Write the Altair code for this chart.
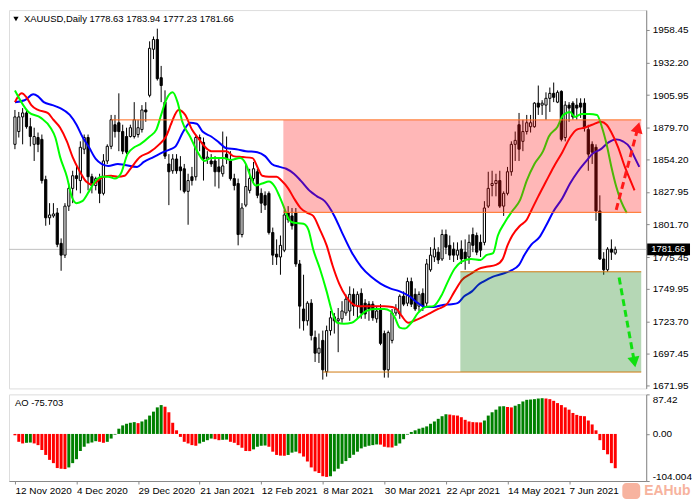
import altair as alt
import pandas as pd

# ---------------- data ----------------
opens = [1866.3, 1876.6, 1888.4, 1891.6, 1880.5, 1866.3, 1871.8, 1870.3, 1837.9, 1807.1,
         1808.6, 1811.0, 1786.5, 1777.0, 1816.5, 1830.8, 1841.0, 1837.1, 1862.4, 1871.8,
         1840.2, 1833.1, 1839.4, 1826.8, 1852.9, 1864.7, 1882.1, 1883.7, 1876.6, 1872.6,
         1872.6, 1872.6, 1874.2, 1878.2, 1894.0, 1905.8, 1942.9, 1950.8, 1920.0, 1900.3,
         1850.5, 1845.0, 1854.5, 1848.1, 1846.6, 1828.4, 1840.2, 1840.2, 1871.8, 1867.9,
         1854.5, 1852.9, 1852.9, 1848.1, 1842.6, 1858.4, 1852.9, 1838.7, 1834.7, 1793.6,
         1817.3, 1829.2, 1838.7, 1844.2, 1826.8, 1825.2, 1826.8, 1795.2, 1777.8, 1775.5,
         1781.0, 1811.0, 1808.6, 1811.0, 1769.9, 1733.6, 1724.1, 1738.3, 1710.7, 1698.0,
         1708.3, 1683.0, 1716.2, 1727.3, 1724.1, 1725.7, 1730.4, 1732.0, 1745.4, 1735.9,
         1746.2, 1738.3, 1737.5, 1737.5, 1725.7, 1733.6, 1713.8, 1684.6, 1708.3, 1730.4,
         1729.6, 1743.9, 1738.3, 1755.7, 1745.4, 1735.9, 1746.2, 1738.3, 1765.2, 1775.5,
         1779.4, 1773.9, 1793.6, 1784.9, 1781.8, 1777.0, 1781.8, 1779.4, 1775.5, 1793.6,
         1792.8, 1787.3, 1787.3, 1816.5, 1833.1, 1834.7, 1837.1, 1816.5, 1826.8, 1844.2,
         1866.3, 1882.1, 1868.7, 1876.6, 1880.5, 1880.5, 1899.5, 1897.9, 1897.9, 1903.4,
         1907.4, 1900.3, 1909.0, 1871.8, 1897.9, 1899.5, 1897.9, 1899.5, 1899.5, 1878.2,
         1866.3, 1863.9, 1812.6, 1773.9, 1765.2, 1781.8, 1778.63]
highs = [1894.0, 1892.4, 1895.5, 1894.7, 1887.6, 1879.7, 1875.8, 1874.2, 1841.0, 1818.9,
         1818.9, 1815.0, 1790.5, 1818.9, 1834.7, 1845.0, 1850.5, 1868.7, 1874.2, 1874.2,
         1842.6, 1840.2, 1842.6, 1858.4, 1866.3, 1890.0, 1890.0, 1907.4, 1882.1, 1879.7,
         1882.1, 1900.3, 1886.1, 1897.9, 1900.3, 1949.3, 1953.2, 1959.5, 1929.5, 1909.8,
         1858.4, 1858.4, 1858.4, 1856.8, 1850.5, 1842.6, 1848.1, 1874.2, 1874.2, 1871.8,
         1860.8, 1858.4, 1856.8, 1854.5, 1876.6, 1872.6, 1860.8, 1842.6, 1838.7, 1818.9,
         1850.5, 1846.6, 1852.1, 1846.6, 1830.8, 1828.4, 1828.4, 1799.2, 1789.7, 1792.8,
         1813.4, 1816.5, 1815.0, 1815.0, 1773.1, 1761.2, 1739.9, 1741.5, 1716.2, 1713.8,
         1716.2, 1720.2, 1732.0, 1730.4, 1734.4, 1739.9, 1745.4, 1751.8, 1750.2, 1747.8,
         1750.2, 1741.5, 1739.9, 1739.9, 1735.9, 1737.5, 1716.2, 1716.2, 1733.6, 1737.5,
         1745.4, 1747.8, 1758.9, 1758.9, 1750.2, 1747.8, 1750.2, 1773.9, 1783.4, 1791.3,
         1783.4, 1797.6, 1797.6, 1792.8, 1787.3, 1787.3, 1788.9, 1789.7, 1793.6, 1799.2,
         1795.2, 1793.6, 1820.5, 1844.2, 1845.0, 1842.6, 1845.0, 1828.4, 1848.1, 1868.7,
         1876.6, 1891.6, 1886.1, 1890.0, 1890.0, 1900.3, 1913.7, 1901.9, 1908.2, 1912.1,
         1916.1, 1909.8, 1909.8, 1901.1, 1900.3, 1901.1, 1903.4, 1903.4, 1903.4, 1882.1,
         1868.7, 1866.3, 1825.2, 1779.4, 1783.4, 1789.7, 1783.94]
lows = [1862.4, 1871.8, 1866.3, 1878.9, 1864.7, 1852.9, 1860.0, 1834.7, 1800.7, 1801.5,
        1807.1, 1783.4, 1764.4, 1774.7, 1812.6, 1818.9, 1829.2, 1826.8, 1858.4, 1829.2,
        1826.8, 1829.2, 1818.9, 1825.2, 1850.5, 1862.4, 1871.8, 1860.8, 1858.4, 1858.4,
        1871.8, 1871.0, 1871.8, 1875.8, 1884.5, 1904.2, 1935.0, 1917.7, 1900.3, 1854.5,
        1817.3, 1842.6, 1842.6, 1829.2, 1826.8, 1801.5, 1833.1, 1837.1, 1860.8, 1837.1,
        1850.5, 1848.1, 1832.3, 1830.8, 1840.2, 1850.5, 1837.1, 1829.2, 1784.9, 1791.3,
        1815.7, 1826.8, 1836.3, 1822.9, 1811.0, 1813.4, 1793.6, 1769.1, 1769.1, 1761.2,
        1779.4, 1803.1, 1797.6, 1767.6, 1717.8, 1716.2, 1720.2, 1708.3, 1690.9, 1690.1,
        1676.7, 1679.1, 1712.3, 1713.8, 1698.8, 1722.5, 1728.1, 1724.1, 1728.1, 1725.7,
        1725.7, 1725.7, 1724.1, 1724.1, 1722.5, 1704.4, 1678.3, 1678.3, 1705.9, 1728.1,
        1725.7, 1735.9, 1735.9, 1735.2, 1732.0, 1732.0, 1732.0, 1735.9, 1763.6, 1771.5,
        1769.9, 1772.3, 1777.8, 1773.1, 1771.5, 1773.1, 1769.9, 1765.2, 1769.9, 1779.4,
        1777.0, 1775.5, 1784.9, 1815.0, 1824.4, 1824.4, 1815.0, 1808.6, 1825.2, 1841.0,
        1852.9, 1852.9, 1860.8, 1874.2, 1875.8, 1879.7, 1890.0, 1890.0, 1886.1, 1892.4,
        1900.3, 1899.5, 1868.7, 1868.7, 1884.5, 1886.1, 1886.1, 1887.6, 1876.6, 1845.0,
        1850.5, 1804.7, 1773.1, 1761.2, 1763.6, 1773.1, 1777.23]
closes = [1888.4, 1888.4, 1891.6, 1880.5, 1872.6, 1872.6, 1866.3, 1837.1, 1807.1, 1809.4,
          1810.2, 1785.7, 1777.0, 1816.5, 1830.8, 1841.0, 1838.7, 1863.9, 1871.8, 1840.2,
          1833.1, 1838.7, 1826.8, 1852.9, 1864.7, 1886.1, 1876.6, 1876.6, 1860.8, 1860.0,
          1879.7, 1886.1, 1879.7, 1894.0, 1892.4, 1943.7, 1950.8, 1919.2, 1913.7, 1856.8,
          1844.2, 1854.5, 1845.0, 1845.0, 1828.4, 1837.1, 1837.1, 1871.8, 1870.3, 1854.5,
          1856.0, 1850.5, 1844.2, 1844.2, 1848.9, 1854.5, 1838.7, 1833.1, 1793.6, 1815.0,
          1832.3, 1838.7, 1846.6, 1825.2, 1818.9, 1817.3, 1795.2, 1777.0, 1775.5, 1784.9,
          1809.4, 1805.5, 1800.7, 1769.9, 1735.9, 1724.1, 1738.3, 1712.3, 1698.0, 1702.0,
          1684.6, 1716.2, 1726.5, 1724.1, 1725.7, 1732.0, 1741.5, 1745.4, 1735.9, 1745.4,
          1730.4, 1729.6, 1733.6, 1726.5, 1732.0, 1705.9, 1684.6, 1714.6, 1730.4, 1733.6,
          1743.9, 1737.5, 1755.7, 1737.5, 1733.6, 1745.4, 1735.9, 1769.9, 1777.0, 1781.8,
          1773.1, 1793.6, 1783.4, 1777.0, 1777.0, 1781.0, 1773.9, 1773.9, 1787.3, 1784.9,
          1779.4, 1781.0, 1815.0, 1830.8, 1834.7, 1837.1, 1816.5, 1826.8, 1844.2, 1866.3,
          1869.5, 1862.4, 1876.6, 1883.7, 1883.7, 1899.5, 1896.3, 1899.5, 1903.4, 1907.4,
          1904.2, 1908.2, 1870.3, 1897.9, 1895.5, 1888.4, 1895.5, 1896.3, 1879.7, 1858.4,
          1860.0, 1812.6, 1773.9, 1765.2, 1781.8, 1779.4, 1781.66]

# Alligator lines (bar index, price)
lips_idx = [0, 3.5, 6.75, 9.25, 10.5, 11.75, 13.5, 14.75, 16, 17.5, 19.25, 21, 22.5, 24.25, 26, 27.5,
            29.25, 31, 32.5, 35, 36.75, 38, 39.25, 41, 42.25, 43.5, 45.5, 47.5, 49.25, 51, 54.25, 56,
            58.5, 60, 61.25, 62.5, 64.25, 66, 67.5, 68.75, 70, 71.25, 72.5, 75, 76.25, 77.5, 79.25,
            81, 82.5, 83.75, 85.5, 87.5, 89.25, 91.25, 93.5, 96, 97.5, 98.75, 100, 101.25, 103,
            104.75, 106.75, 108.75, 111, 112.5, 114.25, 116, 118.5, 121, 122.5, 124.25, 125.5,
            127.25, 129.25, 131.25, 133, 135, 137.25, 138.75, 141, 142.5, 144.25, 145.5, 147.25,
            149.25, 151.25, 152.5, 153.75, 155, 156.25, 157.5, 159]
lips_val = [1909.7, 1892.4, 1887.6, 1879.7, 1871.8, 1856.0, 1840.2, 1824.4, 1818.9, 1820.5, 1828.4,
            1837.1, 1840.2, 1840.2, 1838.7, 1842.6, 1858.4, 1863.9, 1866.3, 1872.6, 1878.2, 1890.0,
            1901.8, 1908.2, 1900.3, 1884.5, 1872.6, 1860.0, 1852.9, 1855.2, 1855.2, 1853.7, 1855.2,
            1850.5, 1840.2, 1833.1, 1834.7, 1836.3, 1832.3, 1824.4, 1814.9, 1805.5, 1803.1, 1802.3,
            1797.6, 1781.8, 1766.0, 1747.8, 1730.4, 1722.5, 1721.7, 1722.5, 1726.5, 1732.0, 1733.6,
            1733.6, 1732.0, 1726.5, 1718.6, 1717.8, 1722.5, 1730.4, 1735.2, 1735.9, 1745.4, 1755.7,
            1766.0, 1771.5, 1773.9, 1773.1, 1777.0, 1778.6, 1792.8, 1803.1, 1812.6, 1821.3, 1837.1,
            1850.5, 1860.8, 1872.6, 1880.5, 1890.0, 1892.4, 1888.4, 1890.8, 1890.8, 1890.0, 1880.5,
            1866.3, 1848.1, 1832.3, 1820.5, 1811.0]
teeth_idx = [0, 1.75, 3, 4.25, 6, 8.5, 10, 11.75, 13.5, 15, 16.75, 18.5, 20, 21.25, 23, 25, 26.75,
             28.5, 30, 32.5, 35, 37.5, 39.25, 40.5, 41, 42.5, 44.25, 46, 47.5, 49.25, 51, 52.5, 55,
             56.75, 59.25, 61.75, 63, 64.25, 66, 68, 69.25, 71, 72.5, 74.25, 76, 77.5, 79.25, 81,
             82.5, 84.25, 86, 87.5, 89.25, 93.5, 96, 98, 99.25, 100.5, 102.25, 103.75, 105.5, 107.5,
             110, 112.25, 114.25, 116.25, 118.5, 120.5, 122.5, 125, 126.75, 128, 129.25, 131.25, 133,
             134.25, 136, 138, 140, 142.25, 144.25, 146, 148, 150, 152.25, 153.75, 155, 156.75, 158.5,
             159.75, 161]
teeth_val = [1900.3, 1907.4, 1904.2, 1897.9, 1894.0, 1891.6, 1886.1, 1879.7, 1868.7, 1856.0, 1845.0,
             1836.3, 1833.9, 1836.3, 1840.2, 1841.0, 1840.2, 1841.0, 1846.6, 1856.0, 1860.0, 1866.3,
             1872.6, 1882.1, 1886.1, 1894.0, 1890.0, 1878.2, 1871.8, 1864.7, 1860.8, 1860.8, 1860.8,
             1856.8, 1856.0, 1855.2, 1848.1, 1841.0, 1840.2, 1840.2, 1837.1, 1830.8, 1822.9, 1814.9,
             1811.0, 1808.6, 1797.6, 1784.9, 1769.1, 1754.1, 1743.9, 1738.3, 1735.9, 1735.9, 1735.9,
             1735.2, 1733.6, 1728.0, 1722.5, 1724.1, 1726.5, 1729.6, 1733.6, 1737.5, 1747.8, 1757.3,
             1762.0, 1766.0, 1767.6, 1769.1, 1773.9, 1784.9, 1792.8, 1800.7, 1805.5, 1813.4, 1824.4,
             1836.3, 1848.1, 1860.0, 1871.8, 1878.2, 1879.7, 1882.1, 1884.5, 1882.1, 1875.8, 1863.9,
             1848.1, 1838.7, 1829.2]
jaw_idx = [0, 2.5, 4.75, 6, 7.5, 9.75, 11.75, 14.25, 16, 17.5, 19.25, 21, 22.5, 24.25, 26.75, 28.5,
           31.75, 33.5, 36, 38.5, 40.5, 41.75, 43.75, 45.5, 47.25, 48.75, 51, 53, 55, 57.5, 60, 63,
           65, 66.75, 68.75, 70.5, 72.5, 74.25, 76.75, 78.5, 80.5, 83, 85, 87.5, 90, 92.5, 95, 97.5,
           100, 102.5, 104.75, 106.75, 108.75, 111, 113.5, 115, 116.75, 118.75, 120.5, 121.75,
           124.25, 126.75, 128.75, 131, 132.5, 134.25, 136.25, 138, 140, 142.25, 144.25, 146.25,
           148.5, 150, 152.25, 154.25, 156.25, 158, 159.75, 161, 162.25]
jaw_val = [1900.3, 1901.8, 1906.6, 1905.0, 1900.3, 1897.9, 1895.5, 1890.0, 1882.1, 1872.6, 1863.9,
           1854.5, 1850.5, 1848.9, 1850.5, 1849.7, 1848.1, 1852.1, 1856.0, 1860.0, 1862.4, 1864.7,
           1876.6, 1883.7, 1882.9, 1876.6, 1872.6, 1867.9, 1863.1, 1862.4, 1860.8, 1860.0, 1856.8,
           1850.5, 1848.1, 1846.6, 1842.6, 1837.1, 1828.4, 1824.4, 1820.5, 1808.6, 1795.2, 1779.4,
           1767.6, 1759.7, 1754.1, 1750.2, 1747.8, 1743.9, 1738.3, 1735.2, 1735.2, 1736.7, 1737.5,
           1738.3, 1743.9, 1747.8, 1753.3, 1755.7, 1759.7, 1762.0, 1764.4, 1769.1, 1777.8, 1785.7,
           1791.3, 1800.7, 1812.6, 1822.8, 1834.7, 1844.2, 1852.9, 1858.4, 1862.4, 1867.9, 1870.3,
           1868.7, 1864.0, 1856.0, 1848.1]

ao_values = [-3.0, -17.4, -21.0, -19.6, -19.0, -21.0, -24.7, -35.5, -46.4, -57.3,
             -64.5, -75.4, -76.9, -77.6, -74.0, -64.5, -55.8, -37.7, -28.3, -21.0,
             -18.9, -16.0, -17.4, -19.6, -17.4, -10.2, -1.5, 11.6, 18.9, 22.5,
             24.7, 26.1, 23.9, 27.6, 31.9, 40.6, 49.3, 58.7, 63.8, 60.2,
             47.9, 24.7, 8.0, -6.5, -17.4, -21.0, -24.7, -26.1, -21.0, -17.4,
             -13.8, -10.2, -11.6, -13.8, -13.0, -12.5, -17.4, -19.6, -24.7, -30.5,
             -37.7, -37.9, -34.1, -28.3, -26.1, -25.8, -28.3, -39.2, -46.4, -47.9,
             -48.2, -46.4, -41.3, -39.2, -42.8, -50.0, -60.9, -74.0, -82.7, -86.3,
             -93.5, -95.0, -93.5, -82.7, -76.9, -66.0, -60.0, -53.0, -46.0, -39.2,
             -31.9, -28.3, -26.1, -24.7, -23.2, -23.6, -28.3, -29.7, -29.9, -26.1,
             -21.0, -11.6, -1.5, 4.4, 8.0, 11.6, 13.8, 16.7, 22.5, 27.6,
             33.4, 39.2, 43.5, 42.8, 41.3, 40.6, 37.0, 31.2, 27.6, 26.1,
             25.7, 25.4, 29.7, 40.6, 47.9, 53.7, 60.9, 61.3, 59.5, 58.7,
             62.4, 66.0, 71.8, 75.4, 76.1, 76.9, 78.3, 79.0, 78.3, 76.9,
             73.2, 68.2, 63.8, 58.7, 53.7, 46.4, 42.1, 39.9, 39.2, 29.7,
             21.0, 8.0, -13.8, -35.5, -45.0, -64.5, -75.703]

date_ticks = [0, 16, 32, 48, 64, 80, 96, 112, 128, 144]
date_labels = ["12 Nov 2020", "4 Dec 2020", "29 Dec 2020", "21 Jan 2021", "12 Feb 2021",
               "8 Mar 2021", "30 Mar 2021", "22 Apr 2021", "14 May 2021", "7 Jun 2021"]
price_ticks = [1671.95, 1697.45, 1723.70, 1749.95, 1775.45, 1801.70, 1827.95, 1854.20,
               1879.70, 1905.95, 1932.20, 1958.45]
ao_ticks = [87.42, 0.0, -104.004]

# zones: [start bar, bottom price, top price]
zone_start = [69.75, 115.75]
zone_low = [1811.5, 1682.8]
zone_high = [1886.0, 1763.6]
zone_fill = ["#FF1010", "#0A7A0A"]
# horizontal levels
level_price = [1886.0, 1811.5, 1763.6, 1682.8]
level_start = [25.0, 69.75, 115.75, 80.0]
level_color = ["#FF6A1A", "#FF6A1A", "#D07A10", "#D07A10"]
# forecast arrows: start (bar, price) -> head (bar, price)
arrow_x0 = [156.25, 157.0]
arrow_p0 = [1813.4, 1758.9]
arrow_x1 = [161.9, 160.97]
arrow_p1 = [1879.9, 1690.8]
arrow_angle = [15, 169.5]
arrow_color = ["#FF1A1A", "#10E010"]

# ---------------- chart ----------------
W, H1, H2 = 640, 380, 87
X_END = 162.75
FONT = "Liberation Sans"
FS = 9.5
x_scale = alt.Scale(domain=[-0.25, X_END], nice=False, zero=False)
y_scale = alt.Scale(domain=[1669.6, 1974.5], nice=False, zero=False)
y_axis = alt.Axis(orient="right", values=price_ticks, format=".2f", title=None, tickSize=3,
                  labelPadding=3, labelOverlap=False, grid=False)

n = len(opens)
candles = pd.DataFrame({"i": list(range(n)), "o": opens, "h": highs, "l": lows, "c": closes})

def X(f):
    return alt.X(f, scale=x_scale, axis=None)

def Y(f):
    return alt.Y(f, scale=y_scale, axis=y_axis)

last_price = closes[-1]
last_df = pd.DataFrame({"p": [last_price], "label": [f"{last_price:.2f}"]})
price_line = alt.Chart(last_df).mark_rule(color="#C0C0C0", strokeWidth=1).encode(y=Y("p:Q"))

wicks = alt.Chart(candles).mark_rule(color="black", strokeWidth=1).encode(
    x=X("i:Q"), y=Y("l:Q"), y2="h:Q")
bodies = alt.Chart(candles).mark_bar(size=2.2, stroke="black", strokeWidth=1).encode(
    x=X("i:Q"), y=Y("o:Q"), y2="c:Q",
    fill=alt.condition("datum.c >= datum.o", alt.value("white"), alt.value("black")))

def ma(xs, ps, color):
    df = pd.DataFrame({"i": xs, "p": ps})
    return alt.Chart(df).mark_line(color=color, strokeWidth=2, interpolate="monotone").encode(
        x=X("i:Q"), y=Y("p:Q"))

jaw = ma(jaw_idx, jaw_val, "#0000FF")
teeth = ma(teeth_idx, teeth_val, "#FF0000")
lips = ma(lips_idx, lips_val, "#00FF00")

zones = pd.DataFrame({"x0": zone_start, "x1": [X_END] * len(zone_start), "lo": zone_low,
                      "hi": zone_high, "f": zone_fill})
zone_layer = alt.Chart(zones).mark_rect(opacity=0.3).encode(
    x=X("x0:Q"), x2="x1:Q", y=Y("lo:Q"), y2="hi:Q", fill=alt.Fill("f:N", scale=None))

levels = pd.DataFrame({"p": level_price, "x0": level_start, "x1": [X_END] * len(level_price),
                       "col": level_color})
level_layer = alt.Chart(levels).mark_rule(strokeWidth=1).encode(
    x=X("x0:Q"), x2="x1:Q", y=Y("p:Q"), color=alt.Color("col:N", scale=None))

arrows = pd.DataFrame({"x0": arrow_x0, "p0": arrow_p0, "x1": arrow_x1, "p1": arrow_p1,
                       "ang": arrow_angle, "col": arrow_color})
shafts = alt.Chart(arrows).mark_rule(strokeWidth=3, strokeDash=[7, 4]).encode(
    x=X("x0:Q"), x2="x1:Q", y=Y("p0:Q"), y2="p1:Q", color=alt.Color("col:N", scale=None))
heads = alt.Chart(arrows).mark_point(shape="triangle-up", filled=True, size=150, opacity=1).encode(
    x=X("x1:Q"), y=Y("p1:Q"), angle=alt.Angle("ang:Q", scale=None),
    color=alt.Color("col:N", scale=None))

price_box = alt.Chart(last_df).mark_rect(color="black", clip=False, yOffset=-6, y2Offset=6).encode(
    x=alt.value(W + 1), x2=alt.value(W + 44), y=Y("p:Q"), y2="p:Q")
price_text = alt.Chart(last_df).mark_text(align="left", baseline="middle", color="white",
                                          font=FONT, fontSize=FS, clip=False).encode(
    x=alt.value(W + 5), y=Y("p:Q"), text="label:N")

title_df = pd.DataFrame({"t": [f"XAUUSD,Daily  {opens[-1]} {highs[-1]} {lows[-1]} {closes[-1]}"]})
title_tri = alt.Chart(title_df).mark_point(shape="triangle-down", filled=True, size=28,
                                           color="black", opacity=1).encode(
    x=alt.value(7), y=alt.value(9))
title_txt = alt.Chart(title_df).mark_text(align="left", baseline="middle", font=FONT,
                                          fontSize=FS, color="black").encode(
    x=alt.value(15), y=alt.value(9), text="t:N")

main = alt.layer(price_line, wicks, bodies, jaw, teeth, lips, zone_layer, level_layer,
                 shafts, heads, price_box, price_text, title_tri, title_txt).properties(
    width=W, height=H1)

# ---- AO panel ----
ao_colors = ["#008000" if k > 0 and ao_values[k] > ao_values[k - 1] else "#FF0000"
             for k in range(len(ao_values))]
ao_df = pd.DataFrame({"i": list(range(len(ao_values))), "v": ao_values, "col": ao_colors})
label_expr = " : ".join(f"datum.value == {t} ? '{lab}'" for t, lab in zip(date_ticks, date_labels)) + " : ''"
ao_x = alt.X("i:Q", scale=x_scale,
             axis=alt.Axis(values=date_ticks, labelExpr=label_expr, labelAlign="left",
                           labelFlush=False, labelOverlap=False, tickSize=3, labelPadding=2,
                           title=None, grid=False))
ao_y = alt.Y("v:Q", scale=alt.Scale(domain=[-104.004, 87.42], nice=False, zero=False),
             axis=alt.Axis(orient="right", values=ao_ticks,
                           labelExpr="datum.value == 0 ? '0.00' : '' + datum.value",
                           labelFlush=True, tickSize=3, labelPadding=3, title=None,
                           grid=False, labelOverlap=False))
ao_bars = alt.Chart(ao_df).mark_bar(size=3).encode(
    x=ao_x, y=ao_y, y2=alt.datum(0), color=alt.Color("col:N", scale=None))
ao_title_df = pd.DataFrame({"t": [f"AO {ao_values[-1]}"]})
ao_title = alt.Chart(ao_title_df).mark_text(align="left", baseline="middle", font=FONT,
                                            fontSize=FS, color="black").encode(
    x=alt.value(6), y=alt.value(9), text="t:N")
wm_df = pd.DataFrame({"t": ["EAHub"]})
wm_icon = alt.Chart(wm_df).mark_rect(color="#F6A68E", opacity=0.85, cornerRadius=4, clip=False).encode(
    x=alt.value(W - 24), x2=alt.value(W - 6), y=alt.value(H2 + 2), y2=alt.value(H2 + 18))
wm_text = alt.Chart(wm_df).mark_text(align="left", baseline="middle", font=FONT, fontSize=14,
                                     fontWeight="bold", color="#F6A68E", opacity=0.85,
                                     clip=False).encode(
    x=alt.value(W - 2), y=alt.value(H2 + 10), text="t:N")

ao = alt.layer(ao_bars, ao_title, wm_icon, wm_text).properties(width=W, height=H2)

chart = alt.vconcat(main, ao, spacing=2, padding=0).configure_view(
    stroke="black", strokeWidth=1
).configure_axis(
    labelFont=FONT, labelFontSize=FS, labelColor="black", tickColor="black",
    domainColor="black", domainWidth=1, tickWidth=1
).configure(background="white")

chart.save("out.html", embed_options={"renderer": "svg", "actions": False})
